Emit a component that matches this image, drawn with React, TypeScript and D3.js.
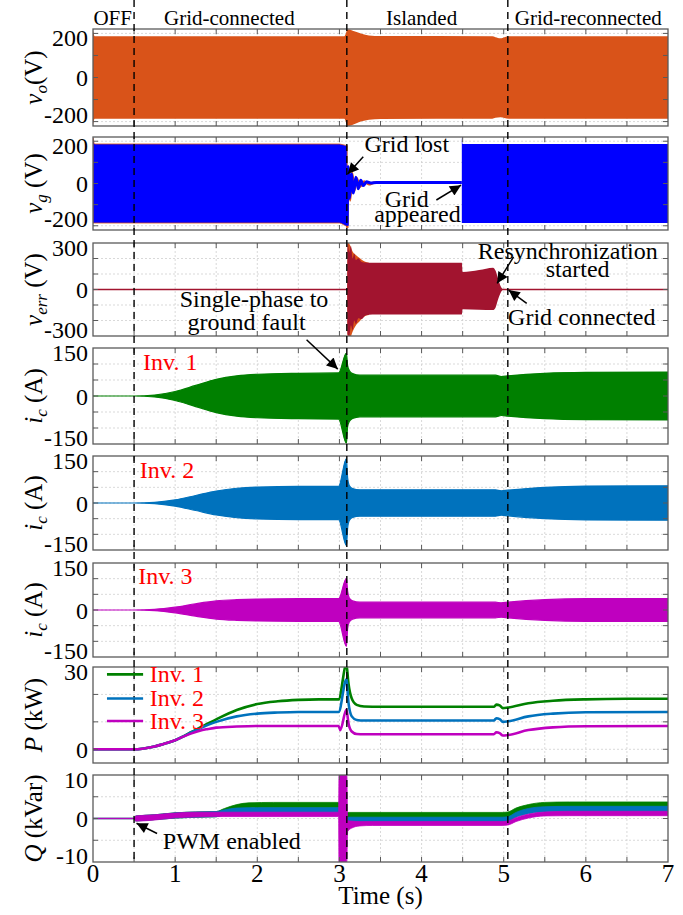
import React from 'react'
import * as d3 from 'd3'

const W = 683
const H = 915
const left = 93
const right = 668

// time instants of the dashed markers (s)
const eventTimes = [0.5, 3.09, 5.05]
const xTickValues = [0, 0.5, 1, 1.5, 2, 2.5, 3, 3.5, 4, 4.5, 5, 5.5, 6, 6.5, 7]
const xTickLabels = [0, 1, 2, 3, 4, 5, 6, 7]
const stageLabels = ['OFF', 'Grid-connected', 'Islanded', 'Grid-reconnected']
const stageCenters = [0.24, 1.66, 4.0, 6.03]

// envelopes of the fast waveforms: [t, upper, lower]
const voEnv = [
  [0, 215, -215], [0.02, 187, -187], [3.06, 187, -187], [3.1, 218, -220], [3.14, 216, -218],
  [3.2, 207, -209], [3.27, 198, -199], [3.36, 191, -192], [3.5, 188, -188], [4.86, 187, -187],
  [4.9, 183, -183], [4.96, 178, -180], [5.01, 183, -184], [5.06, 187, -187], [7, 187, -187],
]
const vgEnvA = [[0, 215, -187], [0.02, 187, -187], [3.0, 187, -187], [3.085, 180, -200], [3.095, 180, -200]]
const vgEnvB = [[4.49, 220, -187], [4.5, 187, -187], [7, 187, -187]]
const vgRingBlue = [
  [3.095, -200], [3.105, 80], [3.12, -70], [3.145, 45], [3.17, -45], [3.2, 30], [3.23, -25],
  [3.26, 15], [3.29, -10], [3.33, 8], [3.38, 2], [3.45, 5], [4.49, 5],
]
const vgRingOrange = [
  [3.095, -210], [3.11, 60], [3.13, -80], [3.155, 50], [3.18, -35], [3.21, 25], [3.25, -15],
  [3.3, 10], [3.36, -4], [3.42, 3], [3.5, 4],
]
const verrEnv = [
  [3.095, 0, 0], [3.1, 300, -290], [3.12, 240, -300], [3.14, 280, -230], [3.16, 200, -262],
  [3.18, 232, -200], [3.2, 190, -222], [3.23, 202, -185], [3.27, 178, -190], [3.32, 174, -166],
  [3.4, 172, -162], [4.49, 172, -162], [4.5, 113, -128], [4.7, 126, -131], [4.87, 141, -133],
  [4.9, 122, -117], [4.93, 72, -66], [4.96, 25, -24], [4.99, 0, 0],
]
const verrSpikeEnv = [
  [3.095, 0, 0], [3.1, 310, -305], [3.13, 285, -310], [3.16, 245, -272], [3.2, 222, -232],
  [3.25, 202, -203], [3.3, 182, -176], [3.36, 172, -165],
]
const verrFlat = [[0, 0], [3.095, 0], [4.99, 0], [7, 0]]

const ic1Env = [
  [0, 0, 0], [0.5, 0, 0], [0.75, 3, -3], [1.0, 14, -14], [1.25, 33, -33], [1.5, 52, -52],
  [1.75, 63, -63], [2.0, 68, -68], [2.5, 71, -71], [2.99, 72, -72], [3.085, 134, -148],
  [3.1, 95, -95], [3.12, 80, -80], [3.16, 70, -70], [3.25, 65, -65], [4.9, 65, -65],
  [4.97, 61, -61], [5.05, 63, -63], [5.5, 71, -71], [6.0, 74, -74], [7, 75, -75],
]
const ic2Env = [
  [0, 0, 0], [0.5, 0, 0], [0.75, 2, -2], [1.0, 10, -10], [1.25, 24, -24], [1.5, 38, -38],
  [1.75, 47, -47], [2.0, 51, -51], [2.5, 53, -53], [2.99, 53, -53], [3.085, 142, -136],
  [3.1, 80, -80], [3.12, 56, -56], [3.16, 46, -46], [3.25, 42, -42], [4.9, 42, -42],
  [4.97, 39, -39], [5.05, 41, -41], [5.5, 50, -50], [6.0, 54, -54], [7, 55, -55],
]
const ic3Env = [
  [0, 0, 0], [0.5, 0, 0], [0.75, 2, -2], [1.0, 9, -9], [1.25, 20, -20], [1.5, 29, -29],
  [1.75, 33, -33], [2.0, 35, -35], [2.5, 36, -36], [2.99, 36, -36], [3.085, 101, -116],
  [3.1, 60, -60], [3.12, 38, -38], [3.16, 29, -29], [3.25, 25, -25], [4.9, 25, -25],
  [4.97, 23, -23], [5.05, 25, -25], [5.5, 33, -33], [6.0, 36, -36], [7, 36, -36],
]

// active power (kW): [t, P]
const pInv1 = [
  [0, 0], [0.5, 0], [0.6, 0.2], [0.75, 1.0], [0.9, 2.3], [1.0, 3.3], [1.1, 4.7], [1.2, 6.3],
  [1.3, 7.9], [1.4, 9.4], [1.5, 10.9], [1.75, 14.3], [2.0, 16.5], [2.25, 17.5], [2.5, 18.0],
  [2.75, 18.2], [2.99, 18.2], [3.085, 31], [3.11, 24], [3.15, 18.5], [3.21, 16.2], [3.3, 15.6],
  [3.5, 15.5], [4.88, 15.5], [4.91, 16.3], [4.95, 16.0], [4.99, 15.0], [5.05, 15.2],
  [5.3, 16.8], [5.6, 17.7], [6.0, 18.2], [6.5, 18.4], [7, 18.4],
]
const pInv2 = [
  [0, 0], [0.5, 0], [0.6, 0.2], [0.75, 1.0], [0.9, 2.3], [1.0, 3.3], [1.1, 4.7], [1.2, 6.2],
  [1.3, 7.6], [1.4, 8.9], [1.5, 10.0], [1.75, 12.0], [2.0, 13.0], [2.25, 13.4], [2.5, 13.6],
  [2.99, 13.6], [3.085, 25.5], [3.11, 17], [3.15, 12.0], [3.21, 10.7], [3.3, 10.5],
  [4.88, 10.5], [4.91, 11.3], [4.95, 11.0], [4.99, 10.0], [5.05, 10.2], [5.3, 12.0],
  [5.6, 13.0], [6.0, 13.5], [7, 13.6],
]
const pInv3 = [
  [0, 0], [0.5, 0], [0.6, 0.2], [0.75, 1.0], [0.9, 2.3], [1.0, 3.3], [1.1, 4.6], [1.2, 5.8],
  [1.3, 6.8], [1.4, 7.4], [1.5, 7.9], [1.75, 8.3], [2.0, 8.5], [2.99, 8.5], [3.01, 7.0],
  [3.085, 14.5], [3.11, 9.5], [3.15, 6.5], [3.21, 5.6], [3.3, 5.5], [4.88, 5.5], [4.91, 6.2],
  [4.95, 5.9], [4.99, 5.0], [5.05, 5.2], [5.3, 7.0], [5.6, 8.0], [6.0, 8.4], [7, 8.5],
]

// reactive power bands (kVar): [t, upper, lower]
const qInv1 = [
  [0, 0.05, -0.05], [0.5, 0.05, -0.05], [0.52, 0.55, -0.55], [0.75, 0.85, -0.25], [1.0, 1.3, 0.1],
  [1.25, 1.5, 0.3], [1.5, 1.6, 0.4], [1.6, 2.3, 1.1], [1.75, 3.2, 2.0], [1.9, 3.6, 2.4],
  [2.2, 3.7, 2.5], [2.99, 3.7, 2.5], [3.1, 1.4, 0.2], [4.98, 1.4, 0.2], [5.05, 1.5, 0.3],
  [5.15, 2.4, 1.2], [5.3, 3.2, 2.0], [5.5, 3.7, 2.5], [5.8, 3.8, 2.6], [7, 3.8, 2.6],
]
const qInv2 = [
  [0, 0.05, -0.05], [0.5, 0.05, -0.05], [0.52, 0.55, -0.55], [0.75, 0.85, -0.25], [1.0, 1.3, 0.1],
  [1.25, 1.5, 0.3], [1.5, 1.6, 0.4], [1.6, 2.0, 0.8], [1.75, 2.4, 1.2], [2.0, 2.5, 1.3],
  [2.99, 2.5, 1.3], [3.1, 0.3, -0.8], [4.98, 0.3, -0.8], [5.05, 0.4, -0.7], [5.15, 1.4, 0.3],
  [5.3, 2.3, 1.1], [5.5, 2.7, 1.5], [5.8, 2.8, 1.6], [7, 2.8, 1.6],
]
const qInv3 = [
  [0, 0.05, -0.05], [0.5, 0.05, -0.05], [0.52, 0.6, -0.6], [0.75, 0.85, -0.35], [1.0, 1.25, 0.15],
  [1.25, 1.45, 0.35], [1.5, 1.45, 0.45], [2.99, 1.45, 0.45], [2.995, 10, -10], [3.09, 10, -10],
  [3.1, -0.5, -3.0], [3.15, -0.6, -2.2], [3.25, -0.7, -1.7], [3.4, -0.7, -1.6],
  [4.98, -0.7, -1.6], [5.05, -0.6, -1.5], [5.15, 0.2, -0.7], [5.3, 1.0, 0.1], [5.5, 1.5, 0.6],
  [5.8, 1.65, 0.65], [7, 1.65, 0.65],
]

const invNames = ['Inv. 1', 'Inv. 2', 'Inv. 3']
const invColors = ['#008000', '#0072BD', '#BF00BF']

const FONT = "'Liberation Serif', 'Times New Roman', Times, serif"

const panels = [
  { top: 29, bottom: 126, domain: [-220, 220], ticks: [-200, -100, 0, 100, 200], labels: [-200, 0, 200], sym: 'v', sub: 'o', unit: '(V)' },
  { top: 137, bottom: 230, domain: [-220, 220], ticks: [-200, -100, 0, 100, 200], labels: [-200, 0, 200], sym: 'v', sub: 'g', unit: ' (V)' },
  { top: 243, bottom: 336, domain: [-300, 300], ticks: [-300, -200, -100, 0, 100, 200, 300], labels: [-300, 0, 300], sym: 'v', sub: 'err', unit: ' (V)' },
  { top: 348, bottom: 444, domain: [-150, 150], ticks: [-150, -100, -50, 0, 50, 100, 150], labels: [-150, 0, 150], sym: 'i', sub: 'c', unit: ' (A)' },
  { top: 456, bottom: 550, domain: [-150, 150], ticks: [-150, -100, -50, 0, 50, 100, 150], labels: [-150, 0, 150], sym: 'i', sub: 'c', unit: ' (A)' },
  { top: 563, bottom: 657, domain: [-150, 150], ticks: [-150, -100, -50, 0, 50, 100, 150], labels: [-150, 0, 150], sym: 'i', sub: 'c', unit: ' (A)' },
  { top: 667, bottom: 763, domain: [-5, 30], ticks: [0, 10, 20, 30], labels: [0, 30], sym: 'P', sub: '', unit: ' (kW)' },
  { top: 775, bottom: 862, domain: [-10, 10], ticks: [-10, -5, 0, 5, 10], labels: [-10, 0, 10], sym: 'Q', sub: '', unit: ' (kVar)' },
]

const x = d3.scaleLinear().domain([0, 7]).range([left, right])
const ys = panels.map(p => d3.scaleLinear().domain(p.domain).range([p.bottom, p.top]))

const areaFor = (y: d3.ScaleLinear<number, number>) =>
  d3.area<number[]>().x(d => x(d[0])).y0(d => y(d[2])).y1(d => y(d[1])).curve(d3.curveMonotoneX)
const lineFor = (y: d3.ScaleLinear<number, number>) =>
  d3.line<number[]>().x(d => x(d[0])).y(d => y(d[1])).curve(d3.curveMonotoneX)

// annotations, placed in the coordinates of a panel: [panel, t, value]
const arrows = [
  { from: [1, 3.29, 126], to: [1, 3.1, 45] },
  { from: [1, 4.18, -78], to: [1, 4.48, -8] },
  { from: [2, 5.12, 210], to: [2, 4.92, 40] },
  { from: [2, 5.28, -90], to: [2, 5.06, -4] },
  { from: [3, 2.6, 176], to: [3, 2.98, 84] },
  { from: [7, 0.78, -3.45], to: [7, 0.53, -1.1] },
]
const notes = [
  { at: [1, 3.82, 148], text: 'Grid lost' },
  { at: [1, 3.82, -110], text: 'Grid' },
  { at: [1, 3.95, -181], text: 'appeared' },
  { at: [2, 5.78, 200], text: 'Resynchronization' },
  { at: [2, 5.9, 81], text: 'started' },
  { at: [2, 5.95, -229], text: 'Grid connected' },
  { at: [2, 1.96, -115], text: 'Single-phase to' },
  { at: [2, 1.87, -261], text: 'ground fault' },
  { at: [7, 1.69, -7.1], text: 'PWM enabled' },
]
const invTags = [[3, 0.61, 82], [4, 0.57, 79], [5, 0.55, 84]]
const legendRows = [27.3, 18.5, 10.3]

const px = (a: number[]) => [x(a[1]), ys[a[0]](a[2])]

export default function App() {
  const envPanels = [
    { i: 3, env: ic1Env, color: invColors[0] },
    { i: 4, env: ic2Env, color: invColors[1] },
    { i: 5, env: ic3Env, color: invColors[2] },
  ]
  return (
    <svg width={W} height={H} viewBox={`0 0 ${W} ${H}`} style={{ display: 'block', position: 'absolute', left: 0, top: 0, background: '#fff', fontFamily: FONT }}>
      <defs>
        {panels.map((p, i) => (
          <clipPath id={`clip${i}`} key={i}>
            <rect x={left} y={p.top} width={right - left} height={p.bottom - p.top} />
          </clipPath>
        ))}
        <marker id="ah" viewBox="0 0 10 10" refX="10" refY="5" markerWidth="15" markerHeight="11" orient="auto" markerUnits="userSpaceOnUse">
          <path d="M0,0 L10,5 L0,10 z" fill="#000" />
        </marker>
      </defs>
      <rect width={W} height={H} fill="#fff" />

      {panels.map((p, i) => (
        <g key={`grid${i}`}>
          {xTickValues.slice(1, -1).map(t => (
            <line key={t} x1={x(t)} x2={x(t)} y1={p.top} y2={p.bottom} stroke="#cfcfcf" strokeWidth={0.8} strokeDasharray="2,2" />
          ))}
          {p.ticks.filter(v => v > p.domain[0] && v < p.domain[1]).map(v => (
            <line key={v} x1={left} x2={right} y1={ys[i](v)} y2={ys[i](v)} stroke="#cfcfcf" strokeWidth={0.8} strokeDasharray="2,2" />
          ))}
        </g>
      ))}

      {/* v_o */}
      <g clipPath="url(#clip0)">
        <path d={areaFor(ys[0])(voEnv)!} fill="#D95319" />
      </g>
      {/* v_g */}
      <g clipPath="url(#clip1)">
        <path d={areaFor(ys[1])(vgEnvA)!} fill="#0000FF" stroke="#D95319" strokeWidth={0.8} />
        <path d={lineFor(ys[1])(vgRingOrange)!} fill="none" stroke="#D95319" strokeWidth={2.5} />
        <path d={lineFor(ys[1])(vgRingBlue)!} fill="none" stroke="#0000FF" strokeWidth={3} />
        <path d={areaFor(ys[1])(vgEnvB)!} fill="#0000FF" />
      </g>
      {/* v_err */}
      <g clipPath="url(#clip2)">
        <path d={lineFor(ys[2])(verrFlat)!} fill="none" stroke="#A2142F" strokeWidth={1.3} />
        <path d={areaFor(ys[2])(verrSpikeEnv)!} fill="#D95319" />
        <path d={areaFor(ys[2])(verrEnv)!} fill="#A2142F" />
      </g>
      {/* i_c */}
      {envPanels.map(e => (
        <g key={`ic${e.i}`} clipPath={`url(#clip${e.i})`}>
          <path d={areaFor(ys[e.i])(e.env)!} fill={e.color} stroke={e.color} strokeWidth={1.2} />
        </g>
      ))}
      {/* P */}
      <g clipPath="url(#clip6)">
        {[pInv1, pInv2, pInv3].map((d, k) => (
          <path key={k} d={lineFor(ys[6])(d)!} fill="none" stroke={invColors[k]} strokeWidth={2.6} />
        ))}
      </g>
      {/* Q */}
      <g clipPath="url(#clip7)">
        {[qInv1, qInv2, qInv3].map((d, k) => (
          <path key={k} d={areaFor(ys[7])(d)!} fill={invColors[k]} stroke={invColors[k]} strokeWidth={0.8} />
        ))}
      </g>

      {/* frames, ticks, tick labels */}
      {panels.map((p, i) => (
        <g key={`ax${i}`}>
          <rect x={left} y={p.top} width={right - left} height={p.bottom - p.top} fill="none" stroke="#5a5a5a" strokeWidth={1.3} />
          {xTickValues.slice(1, -1).map(t => (
            <g key={t} stroke="#5a5a5a" strokeWidth={1}>
              <line x1={x(t)} x2={x(t)} y1={p.top} y2={p.top + 5} />
              <line x1={x(t)} x2={x(t)} y1={p.bottom} y2={p.bottom - 5} />
            </g>
          ))}
          {p.ticks.filter(v => v > p.domain[0] && v < p.domain[1]).map(v => (
            <g key={v} stroke="#5a5a5a" strokeWidth={1}>
              <line x1={left} x2={left + 5} y1={ys[i](v)} y2={ys[i](v)} />
              <line x1={right} x2={right - 5} y1={ys[i](v)} y2={ys[i](v)} />
            </g>
          ))}
          {p.labels.map(v => {
            const yy = ys[i](v)
            const nudge = yy < p.top + 6 ? 4 : yy > p.bottom - 6 ? -7 : 0
            return (
              <text key={v} x={left - 5} y={yy + nudge} dy="0.36em" textAnchor="end" fontSize={24} fill="#000">
                {v}
              </text>
            )
          })}
          <text transform={`translate(42,${(p.top + p.bottom) / 2}) rotate(-90)`} textAnchor="middle" fontSize={25} fill="#000">
            <tspan fontStyle="italic">{p.sym}</tspan>
            {p.sub ? <tspan fontStyle="italic" fontSize={17} dy={5}>{p.sub}</tspan> : null}
            <tspan dy={p.sub ? -5 : 0}>{p.unit}</tspan>
          </text>
        </g>
      ))}

      {/* x axis */}
      {xTickLabels.map(t => (
        <text key={t} x={x(t)} y={882} textAnchor="middle" fontSize={25}>{t}</text>
      ))}
      <text x={(left + right) / 2} y={904} textAnchor="middle" fontSize={25}>Time (s)</text>

      {/* stage names */}
      {stageLabels.map((s, k) => (
        <text key={s} x={x(stageCenters[k])} y={25} textAnchor="middle" fontSize={21}>{s}</text>
      ))}

      {/* event markers */}
      {eventTimes.map(t => (
        <line key={t} x1={x(t)} x2={x(t)} y1={0} y2={862} stroke="#000" strokeWidth={1.4} strokeDasharray="7,5" />
      ))}

      {/* inverter tags */}
      {invTags.map((a, k) => (
        <text key={k} x={x(a[1])} y={ys[a[0]](a[2])} fontSize={24} fill="#FF0000">{invNames[k]}</text>
      ))}

      {/* P legend */}
      {legendRows.map((v, k) => (
        <g key={k}>
          <line x1={x(0.17)} x2={x(0.61)} y1={ys[6](v)} y2={ys[6](v)} stroke={invColors[k]} strokeWidth={2.6} />
          <text x={x(0.69)} y={ys[6](v)} dy="0.33em" fontSize={24} fill="#FF0000">{invNames[k]}</text>
        </g>
      ))}

      {/* annotations */}
      {notes.map((n, k) => {
        const [nx, ny] = px(n.at)
        return <text key={k} x={nx} y={ny} textAnchor="middle" fontSize={24}>{n.text}</text>
      })}
      {arrows.map((a, k) => {
        const [x1, y1] = px(a.from)
        const [x2, y2] = px(a.to)
        return <line key={k} x1={x1} y1={y1} x2={x2} y2={y2} stroke="#000" strokeWidth={1.5} markerEnd="url(#ah)" />
      })}
    </svg>
  )
}
